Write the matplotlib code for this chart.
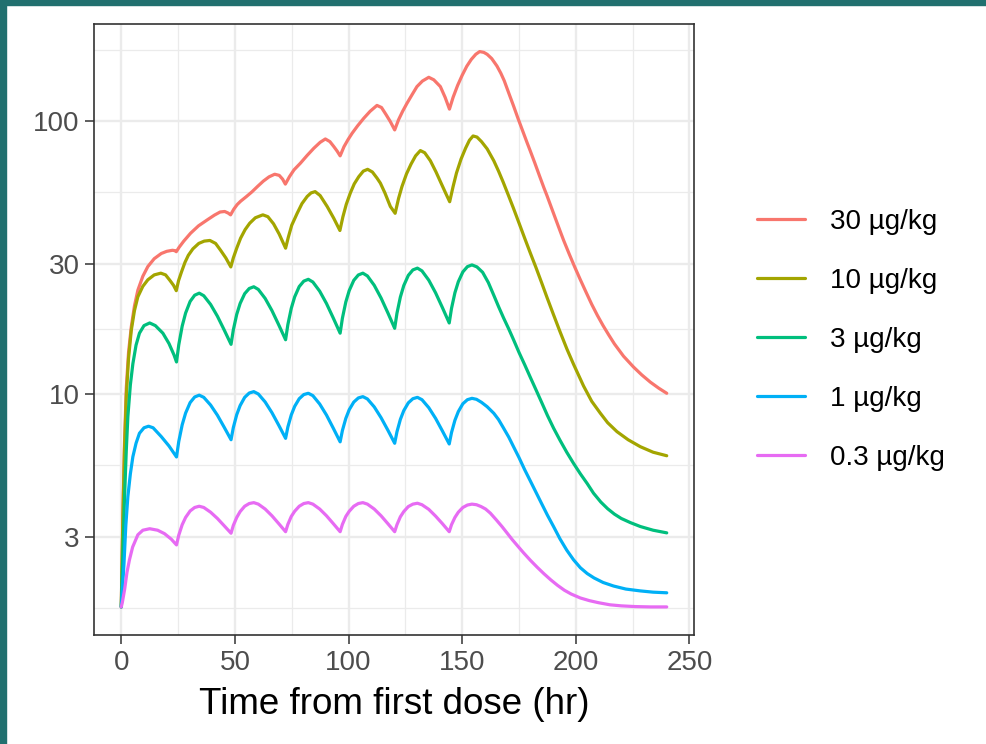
import matplotlib
matplotlib.use("Agg")
import matplotlib.pyplot as plt
from matplotlib.ticker import FixedLocator, NullFormatter
from matplotlib.patches import Rectangle

plt.rcParams['font.family'] = ['Liberation Sans', 'DejaVu Sans']

# ---- data ----
labels = ["30 µg/kg", "10 µg/kg", "3 µg/kg", "1 µg/kg", "0.3 µg/kg"]
colors = ["#F8766D", "#A3A500", "#00BF7D", "#00B0F6", "#E76BF3"]

t_30 = [0, 0.7, 1.4, 2.2, 3.2, 4.4, 5.8, 7.3, 9.5, 11.7, 14.5, 17.6, 20, 22.5, 23.5,
        24.2, 25.5, 27.5, 30.5, 34, 37.8, 41, 43.5, 45.5, 47,
        48.1, 49.5, 51, 52.5, 55, 57.5, 60, 62.5, 65, 67.5, 69.5, 71,
        72.2, 74, 76, 78.8, 81.8, 84.7, 87.5, 89.8, 91.8, 93.5, 95,
        96.3, 98, 99.8, 101.6, 104, 106.7, 109.5, 112.5, 114.5, 116.5, 118.4,
        120.3, 122, 123.8, 125.7, 128, 130.1, 132.5, 135.3, 137.5, 140.4, 142.5,
        144.4, 146, 148, 150, 152, 154, 156, 157.7, 159.5, 161, 163, 165.3, 167,
        168.5, 170.5, 172.6, 174.5, 176.5, 178.5, 180, 182, 184, 186, 187.3, 189,
        191, 193, 194.6, 197, 199.5, 202, 204.5, 207, 209.5, 212, 214.5, 217, 221, 225.4,
        229, 232.8, 236.5, 240]
c_30 = [1.66, 3.6, 6.5, 10.5, 14.2, 17.6, 21.0, 24.0, 27.0, 29.3, 31.3, 32.7, 33.3, 33.6, 33.5,
        33.2, 34.5, 36.3, 38.8, 41.3, 43.4, 45.2, 46.4, 46.6, 46.0,
        45.3, 47.5, 49.4, 50.8, 52.8, 55.0, 57.6, 60.2, 62.4, 63.8, 63.2, 61.2,
        58.7, 62.5, 66.2, 70.0, 74.8, 79.4, 83.5, 85.9, 84.0, 80.6, 77.5,
        74.5, 80.5, 85.5, 90.2, 96.0, 102.3, 108.5, 114.0, 112.0, 105.5, 99.4,
        92.7, 101.0, 108.5, 116.0, 125.0, 133.6, 140.0, 144.5, 141.5, 133.6, 122.0,
        110.5, 122.0, 135.0, 147.0, 158.5, 168.0, 175.5, 179.5, 178.3, 175.4, 169.2, 158.9, 149.6,
        140.4, 126.5, 113.5, 102.5, 92.5, 83.5, 77.5, 70.0, 63.0, 56.8, 53.3, 48.8,
        44.0, 39.7, 36.6, 32.7, 29.2, 26.2, 23.6, 21.3, 19.4, 17.8, 16.45, 15.25, 13.75, 12.55,
        11.75, 11.05, 10.5, 10.06]

t_10 = [0, 0.7, 1.4, 2.2, 3.2, 4.4, 5.8, 7.3, 9.5, 11.7, 14.5, 17.4, 19.5, 21.5, 23,
        24.2, 25.2, 26.5, 28, 29.5, 31.5, 34.1, 36.5, 39, 41.5, 43.7, 46,
        48.2, 49.3, 50.8, 52.5, 54.5, 56.5, 59, 62.3, 64.5, 67, 69.5,
        72.3, 73.5, 75, 77.4, 79.5, 81.8, 83.5, 85.3, 87.5, 90.6, 93.5,
        96.2, 97.5, 99, 100.8, 102.5, 104.5, 106.5, 108.4, 110.5, 112.5, 114, 116, 118.4,
        120.5, 122, 123.5, 125.5, 127.5, 129.5, 131.6, 133.5, 136, 138.5, 141, 143,
        144.5, 146, 147.5, 149.5, 151.5, 153.2, 154.8, 156.5, 158.5, 161, 163.9, 166,
        168, 170.5, 172.6, 175, 177.5, 180, 182.5, 185, 187.3, 190, 193, 196.1,
        199, 203.4, 207, 210.8, 214, 218.1, 223, 228.4, 234, 240]
c_10 = [1.66, 3.5, 6.2, 9.78, 13.5, 17.1, 20.2, 22.7, 24.8, 26.2, 27.3, 27.7, 27.3, 26.0, 25.0,
        23.9, 26.0, 28.0, 30.3, 32.2, 34.0, 35.6, 36.3, 36.5, 35.6, 33.6, 31.5,
        29.2, 31.5, 34.2, 37.2, 40.0, 42.2, 44.2, 45.3, 44.6, 42.0, 38.5,
        34.2, 37.5, 41.5, 45.9, 49.8, 52.9, 54.5, 55.1, 53.3, 48.6, 44.0,
        39.7, 44.5, 49.5, 54.5, 58.8, 62.5, 65.5, 66.5, 65.0, 61.8, 59.2, 54.5, 48.6,
        45.9, 52.0, 57.5, 64.0, 69.5, 74.5, 77.9, 76.5, 71.5, 65.0, 58.5, 53.8,
        50.6, 57.5, 64.5, 72.5, 79.5, 85.0, 88.1, 87.3, 84.0, 79.0, 71.5, 65.5,
        59.8, 53.0, 47.8, 42.3, 37.2, 32.8, 29.0, 25.5, 22.6, 19.7, 16.95, 14.6,
        12.85, 10.7, 9.4, 8.50, 7.85, 7.28, 6.80, 6.41, 6.12, 5.94]

t_3 = [0, 0.7, 1.45, 2.2, 2.9, 4, 5.1, 6.5, 8, 10, 12.5, 15, 18.3, 21, 23.2,
       24.3, 25.3, 26.8, 28.3, 30.3, 32.3, 34.3, 36.3, 39.3, 42.3, 45.3,
       48.3, 49.3, 50.8, 52.3, 54.3, 56.3, 58.3, 60.3, 63.3, 66.3, 69.3,
       72.3, 73.3, 74.8, 76.3, 78.3, 80.3, 82.3, 84.3, 87.3, 90.3, 93.3,
       96.3, 97.3, 98.8, 100.3, 102.3, 104.3, 106.3, 108.3, 111.3, 114.3, 117.3,
       120.3, 121.3, 122.8, 124.3, 126.3, 128.3, 130.3, 132.3, 135.3, 138.3, 141.3,
       144.3, 145.3, 146.8, 148.3, 150.3, 152.3, 154.3, 156.5, 159, 161.5, 163.9, 166,
       168.2, 170.5, 172.6, 175, 177.5, 180, 182.5, 185, 187.5, 190.2, 193, 196,
       199, 202, 205, 207.8, 211, 214, 217, 220, 224, 228.4, 234, 240]
c_3 = [1.66, 2.6, 4.21, 6.2, 8.26, 10.8, 12.9, 15.1, 16.7, 17.8, 18.2, 17.8, 16.7, 15.3, 13.9,
       13.1, 15.14, 17.72, 19.78, 21.83, 23.0, 23.4, 22.9, 21.28, 19.27, 17.15,
       15.2, 17.16, 19.57, 21.46, 23.30, 24.34, 24.7, 24.15, 22.39, 20.20, 17.90,
       15.8, 17.95, 20.59, 22.69, 24.74, 25.90, 26.3, 25.71, 23.80, 21.44, 18.96,
       16.7, 18.95, 21.73, 23.92, 26.07, 27.28, 27.7, 27.06, 25.01, 22.47, 19.82,
       17.4, 19.75, 22.65, 24.95, 27.19, 28.47, 28.9, 28.24, 26.11, 23.47, 20.72,
       18.2, 20.57, 23.48, 25.77, 28.0, 29.27, 29.7, 29.2, 27.9, 25.6, 23.0, 20.9,
       19.0, 17.3, 15.8, 14.2, 12.8, 11.5, 10.35, 9.3, 8.35, 7.50, 6.78, 6.12,
       5.57, 5.1, 4.7, 4.33, 4.02, 3.80, 3.63, 3.50, 3.38, 3.27, 3.17, 3.10]

t_1 = [0, 0.5, 1.2, 2, 2.9, 4, 5.1, 6.5, 8, 10, 12, 14, 17.6, 21,
       24.3, 25.3, 26.8, 28.3, 30.3, 32.3, 34.3, 36.3, 39.3, 42.3, 45.3,
       48.3, 49.3, 50.8, 52.3, 54.3, 56.3, 58.3, 60.3, 63.3, 66.3, 69.3,
       72.3, 73.3, 74.8, 76.3, 78.3, 80.3, 82.3, 84.3, 87.3, 90.3, 93.3,
       96.3, 97.3, 98.8, 100.3, 102.3, 104.3, 106.3, 108.3, 111.3, 114.3, 117.3,
       120.3, 121.3, 122.8, 124.3, 126.3, 128.3, 130.3, 132.3, 135.3, 138.3, 141.3,
       144.3, 145.3, 146.8, 148.3, 150.3, 152.3, 154.3, 156.3, 158.5, 161, 163.9, 166,
       168, 170.5, 172.6, 175, 177.5, 180, 182.5, 185, 187.5, 190.2, 193, 196,
       199, 202, 205, 208, 212, 216.6, 222, 228.4, 234, 240]
c_1 = [1.66, 1.93, 2.40, 3.3, 4.21, 5.1, 5.89, 6.6, 7.18, 7.52, 7.62, 7.52, 6.98, 6.45,
       5.88, 6.70, 7.71, 8.51, 9.30, 9.75, 9.90, 9.72, 9.11, 8.36, 7.55,
       6.80, 7.53, 8.40, 9.07, 9.72, 10.08, 10.2, 10.0, 9.35, 8.54, 7.68,
       6.88, 7.57, 8.38, 9.01, 9.61, 9.95, 10.06, 9.86, 9.19, 8.37, 7.49,
       6.68, 7.35, 8.14, 8.76, 9.34, 9.67, 9.78, 9.59, 8.97, 8.19, 7.37,
       6.60, 7.27, 8.07, 8.69, 9.28, 9.61, 9.72, 9.53, 8.91, 8.14, 7.32,
       6.56, 7.22, 8.01, 8.62, 9.21, 9.53, 9.64, 9.56, 9.32, 8.98, 8.50, 8.06,
       7.55, 6.95, 6.41, 5.85, 5.28, 4.80, 4.36, 3.96, 3.60, 3.27, 2.95, 2.68,
       2.47, 2.31, 2.20, 2.12, 2.04, 1.98, 1.93, 1.90, 1.88, 1.87]

t_03 = [0, 0.5, 1.5, 2.5, 3.6, 5, 7.3, 9.5, 12.5, 16, 19, 22,
        24.3, 25.3, 26.8, 28.3, 30.3, 32.3, 34.3, 36.3, 39.3, 42.3, 45.3,
        48.3, 49.3, 50.8, 52.3, 54.3, 56.3, 58.3, 60.3, 63.3, 66.3, 69.3,
        72.3, 73.3, 74.8, 76.3, 78.3, 80.3, 82.3, 84.3, 87.3, 90.3, 93.3,
        96.3, 97.3, 98.8, 100.3, 102.3, 104.3, 106.3, 108.3, 111.3, 114.3, 117.3,
        120.3, 121.3, 122.8, 124.3, 126.3, 128.3, 130.3, 132.3, 135.3, 138.3, 141.3,
        144.3, 145.3, 146.8, 148.3, 150.3, 152.3, 154.3, 156.3, 158.3, 160.3, 162.4, 165,
        167.5, 169.7, 172, 174.5, 177, 180, 183, 186, 189, 192, 195, 198,
        202, 206, 210, 215, 220, 226, 233, 240]
c_03 = [1.66, 1.73, 1.93, 2.22, 2.47, 2.75, 3.05, 3.17, 3.21, 3.17, 3.08, 2.94,
        2.80, 3.04, 3.32, 3.53, 3.73, 3.84, 3.88, 3.84, 3.69, 3.50, 3.29,
        3.09, 3.30, 3.53, 3.71, 3.88, 3.97, 4.0, 3.95, 3.79, 3.58, 3.35,
        3.13, 3.33, 3.56, 3.72, 3.88, 3.97, 4.0, 3.95, 3.79, 3.58, 3.35,
        3.13, 3.33, 3.56, 3.72, 3.88, 3.97, 4.0, 3.95, 3.79, 3.58, 3.35,
        3.13, 3.32, 3.55, 3.71, 3.87, 3.95, 3.98, 3.93, 3.78, 3.57, 3.35,
        3.13, 3.32, 3.53, 3.69, 3.84, 3.92, 3.95, 3.93, 3.87, 3.79, 3.66, 3.46,
        3.27, 3.10, 2.93, 2.77, 2.62, 2.46, 2.32, 2.195, 2.085, 1.99, 1.91, 1.85,
        1.79, 1.75, 1.72, 1.69, 1.675, 1.665, 1.66, 1.66]

times = [t_30, t_10, t_3, t_1, t_03]
concs = [c_30, c_10, c_3, c_1, c_03]

x_ticks = [0, 50, 100, 150, 200, 250]
y_ticks = [3, 10, 30, 100]
y_ticklabels = ["3", "10", "30", "100"]

# ---- figure ----
W, H = 987, 744
fig = plt.figure(figsize=(W / 100, H / 100), dpi=100)
fig.patch.set_facecolor("white")

teal = "#21706F"
fig.patches.append(Rectangle((0, 0), 6 / W, 1, transform=fig.transFigure, color=teal, zorder=10))
fig.patches.append(Rectangle((0, 1 - 5 / H), 1, 5 / H, transform=fig.transFigure, color=teal, zorder=10))

ax = fig.add_axes([94 / W, (H - 635) / H, 600 / W, 611 / H])

for t, c, col, lab in zip(times, concs, colors, labels):
    ax.plot(t, c, color=col, lw=2.3, label=lab, solid_capstyle="round", solid_joinstyle="round")

ax.set_yscale("log")
ax.set_xlim(-12, 252)
ax.set_ylim(1.31, 226.5)

ax.xaxis.set_major_locator(FixedLocator(x_ticks))
ax.xaxis.set_minor_locator(FixedLocator([25, 75, 125, 175, 225]))
ax.yaxis.set_major_locator(FixedLocator(y_ticks))
ax.set_yticklabels(y_ticklabels)
ax.yaxis.set_minor_locator(FixedLocator([1.643, 5.477, 17.32, 54.77, 182.6]))
ax.yaxis.set_minor_formatter(NullFormatter())

ax.grid(which="major", color="#EBEBEB", lw=1.7)
ax.grid(which="minor", color="#EBEBEB", lw=0.9)
ax.set_axisbelow(True)

for s in ax.spines.values():
    s.set_color("#333333")
    s.set_linewidth(1.2)

ax.tick_params(which="major", length=6.5, width=1.1, color="#333333",
               labelcolor="#4D4D4D", labelsize=20, pad=4)
ax.tick_params(which="minor", length=0)

ax.set_xlabel("Time from first dose (hr)", fontsize=26.5, color="black", labelpad=8)

leg = ax.legend(loc="center left", bbox_to_anchor=(757 / W, (H - 340) / H),
                bbox_transform=fig.transFigure, frameon=False, fontsize=20,
                handlelength=1.73, handletextpad=0.9, labelspacing=1.19,
                borderpad=0, borderaxespad=0)
for line in leg.get_lines():
    line.set_linewidth(2.3)

fig.savefig("out.png", dpi=100)
